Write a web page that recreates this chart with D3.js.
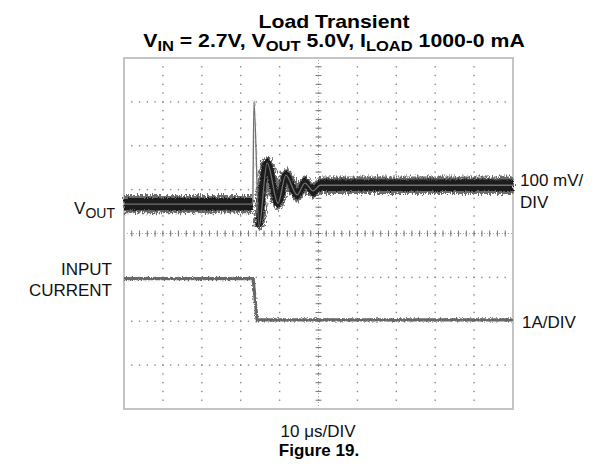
<!DOCTYPE html>
<html>
<head>
<meta charset="utf-8">
<script src="https://cdn.jsdelivr.net/npm/d3@7"></script>
<style>
  body { margin: 0; background: #fff; }
  svg { display: block; font-family: "Liberation Sans", Arial, sans-serif; }
</style>
</head>
<body>
<svg id="chart" width="613" height="473"></svg>
<script>
// scope screen: 10 us/div across 10 divisions, 8 vertical divisions
const timeTicks = [0, 10, 20, 30, 40, 50, 60, 70, 80, 90, 100]; // us
const divTicks = [-4, -3, -2, -1, 0, 1, 2, 3, 4];

// VOUT deviation, mV (100 mV/div, screen centre = 0)
const vTime = [0, 33.0, 33.1, 33.4, 34.7, 36.8, 39.6, 41.6, 44.5, 46.5, 48.6, 50.4, 100];
const vOut = [67, 67, 70, 300, 15, 161, 69, 133, 88, 115, 97, 110, 110];
// half height of the noise band at each point, mV
const vNoise = [20, 20, 3, 3, 10, 18, 17, 17, 17, 18, 18, 19, 19];
const ringStart = 34.7; // from here the trace is drawn fat (ringing)

// input current, A (1 A/div, zero sits 2 div below centre)
const iTime = [0, 33.2, 34.2, 100];
const iLoad = [0.97, 0.97, 0.03, 0.03];
const iZeroDiv = -2;

const svg = d3.select("#chart");

const x = d3.scaleLinear().domain([0, 100]).range([124, 513]);
const y = d3.scaleLinear().domain([-4, 4]).range([409, 58]);

const defs = svg.append("defs");
function noiseFilter(id, freq, scale) {
  const f = defs.append("filter").attr("id", id)
    .attr("filterUnits", "userSpaceOnUse")
    .attr("x", 100).attr("y", 50).attr("width", 440).attr("height", 380);
  f.append("feTurbulence").attr("type", "fractalNoise")
    .attr("baseFrequency", freq).attr("numOctaves", 2).attr("seed", 5)
    .attr("result", "t");
  f.append("feDisplacementMap").attr("in", "SourceGraphic").attr("in2", "t")
    .attr("scale", scale).attr("xChannelSelector", "R").attr("yChannelSelector", "G");
}
noiseFilter("noise", "1.2 0.3", 9);
noiseFilter("noiseFine", "1.5 0.6", 4);

// graticule
const grid = svg.append("g");
const minorX = x.ticks(50);
const minorY = y.ticks(40);

timeTicks.slice(1, -1).forEach(t => {
  grid.selectAll(null).data(minorY).enter().append("rect")
    .attr("x", x(t) - 0.7).attr("y", d => y(d) - 0.7)
    .attr("width", 1.4).attr("height", 1.4).attr("fill", "#8a8a8a");
});
divTicks.slice(1, -1).forEach(v => {
  grid.selectAll(null).data(minorX).enter().append("rect")
    .attr("x", d => x(d) - 0.7).attr("y", y(v) - 0.7)
    .attr("width", 1.4).attr("height", 1.4).attr("fill", "#8a8a8a");
});

// centre axes with tick marks
grid.append("line")
  .attr("x1", x(0)).attr("x2", x(100)).attr("y1", y(0)).attr("y2", y(0))
  .attr("stroke", "#999").attr("stroke-width", 0.8).attr("stroke-dasharray", "1,2");
grid.append("line")
  .attr("x1", x(50)).attr("x2", x(50)).attr("y1", y(-4)).attr("y2", y(4))
  .attr("stroke", "#999").attr("stroke-width", 0.8).attr("stroke-dasharray", "1,2");
grid.selectAll(null).data(minorX).enter().append("line")
  .attr("x1", d => x(d)).attr("x2", d => x(d))
  .attr("y1", y(0) - 3).attr("y2", y(0) + 3)
  .attr("stroke", "#777").attr("stroke-width", 1);
grid.selectAll(null).data(minorY).enter().append("line")
  .attr("y1", d => y(d)).attr("y2", d => y(d))
  .attr("x1", x(50) - 3).attr("x2", x(50) + 3)
  .attr("stroke", "#777").attr("stroke-width", 1);

// frame
svg.append("rect")
  .attr("x", x(0)).attr("y", y(4))
  .attr("width", x(100) - x(0)).attr("height", y(-4) - y(4))
  .attr("fill", "none").attr("stroke", "#c4c4c4").attr("stroke-width", 2);

// VOUT trace
const vData = vTime.map((t, i) => ({ t: t, v: vOut[i] / 100, n: vNoise[i] / 100 }));
const band = k => d3.area().curve(d3.curveMonotoneX)
  .x(d => x(d.t))
  .y0(d => y(d.v - d.n * k))
  .y1(d => y(d.v + d.n * k));
const vLine = d3.line().curve(d3.curveMonotoneX).x(d => x(d.t)).y(d => y(d.v));
const ring = vData.filter(d => d.t >= ringStart);

svg.append("path").datum(vData)
  .attr("d", band(1.05)).attr("fill", "#6c6c6c").attr("filter", "url(#noise)");
svg.append("path").datum(ring)
  .attr("d", vLine).attr("fill", "none")
  .attr("stroke", "#6c6c6c").attr("stroke-width", 11).attr("stroke-linejoin", "round")
  .attr("filter", "url(#noise)");
svg.append("path").datum(vData)
  .attr("d", band(0.7)).attr("fill", "#1c1c1c").attr("filter", "url(#noiseFine)");
svg.append("path").datum(ring)
  .attr("d", vLine).attr("fill", "none")
  .attr("stroke", "#1c1c1c").attr("stroke-width", 7).attr("stroke-linejoin", "round")
  .attr("filter", "url(#noiseFine)");
svg.append("path").datum(vData)
  .attr("d", vLine).attr("fill", "none")
  .attr("stroke", "#707070").attr("stroke-width", 1.3);

// input current trace
const iData = iTime.map((t, i) => ({ t: t, v: iLoad[i] + iZeroDiv }));
const iLine = d3.line().x(d => x(d.t)).y(d => y(d.v));
svg.append("path").datum(iData)
  .attr("d", iLine).attr("fill", "none")
  .attr("stroke", "#6a6a6a").attr("stroke-width", 3.2)
  .attr("filter", "url(#noiseFine)");
svg.append("path").datum(iData)
  .attr("d", iLine).attr("fill", "none")
  .attr("stroke", "#666").attr("stroke-width", 1.4);

// titles (the original lettering runs wide, so stretch horizontally)
const title = svg.append("g")
  .attr("transform", "translate(334,0) scale(1.18,1)")
  .attr("font-weight", "bold").attr("text-anchor", "middle");
title.append("text").attr("x", 0).attr("y", 28).attr("font-size", 18).text("Load Transient");
const t2 = title.append("text").attr("x", 0).attr("y", 47).attr("font-size", 18);
t2.append("tspan").text("V");
t2.append("tspan").attr("dy", 4).attr("font-size", 14).text("IN");
t2.append("tspan").attr("dy", -4).text(" = 2.7V, V");
t2.append("tspan").attr("dy", 4).attr("font-size", 14).text("OUT");
t2.append("tspan").attr("dy", -4).text(" 5.0V, I");
t2.append("tspan").attr("dy", 4).attr("font-size", 14).text("LOAD");
t2.append("tspan").attr("dy", -4).text(" 1000-0 mA");

// channel labels
const lab = svg.append("g").attr("font-size", 17).attr("fill", "#111");
const vl = lab.append("text").attr("x", 115).attr("y", 214).attr("text-anchor", "end");
vl.append("tspan").text("V");
vl.append("tspan").attr("dy", 4).attr("font-size", 14).text("OUT");
lab.append("text").attr("x", 112).attr("y", 275).attr("text-anchor", "end").text("INPUT");
lab.append("text").attr("x", 112).attr("y", 296).attr("text-anchor", "end").text("CURRENT");
lab.append("text").attr("x", 520).attr("y", 186).text("100 mV/");
lab.append("text").attr("x", 520).attr("y", 208).text("DIV");
lab.append("text").attr("x", 522).attr("y", 328).text("1A/DIV");
lab.append("text").attr("x", 318).attr("y", 437).attr("text-anchor", "middle").text("10 \u03bcs/DIV");
svg.append("text").attr("x", 319).attr("y", 456).attr("text-anchor", "middle")
  .attr("font-size", 17).attr("font-weight", "bold").text("Figure 19.");
</script>
</body>
</html>
